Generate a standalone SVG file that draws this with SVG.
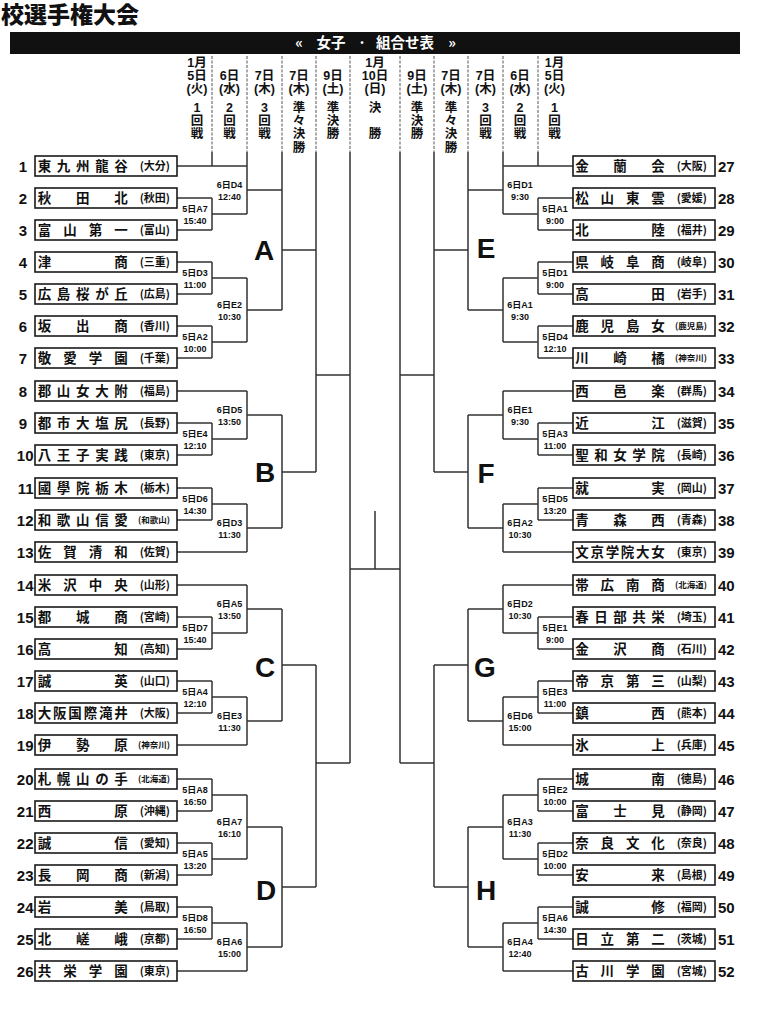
<svg xmlns="http://www.w3.org/2000/svg" width="765" height="1024" viewBox="0 0 765 1024">
<style>
.bg{fill:#fff}
.box{fill:#fff;stroke:#1a1a1a;stroke-width:1.6}
.nm{font-family:"Noto Sans CJK JP","Noto Sans CJK SC",sans-serif;font-size:13.5px;font-weight:700;text-anchor:middle;fill:#111}
.pf{font-family:"Noto Sans CJK JP","Noto Sans CJK SC",sans-serif;font-size:11px;font-weight:700;text-anchor:end;fill:#111}
.pfs{font-size:8.5px}
.num{font-family:"Liberation Sans",Arial,sans-serif;font-size:15px;font-weight:700;fill:#111}
.nl{text-anchor:end}
.nr{text-anchor:start}
.lb{font-family:"Liberation Sans","Noto Sans CJK JP",sans-serif;font-size:9px;font-weight:700;text-anchor:middle;fill:#111}
.hd{font-family:"Liberation Sans","Noto Sans CJK JP",sans-serif;font-size:12.5px;font-weight:700;text-anchor:middle;fill:#111}
.ltr{font-family:"Liberation Sans",Arial,sans-serif;font-size:28px;font-weight:700;text-anchor:middle;fill:#111}
.cn{fill:none;stroke:#333;stroke-width:1.5}
.dv{fill:none;stroke:#555;stroke-width:1;stroke-dasharray:3 1.5}
.ttl{font-family:"Noto Sans CJK JP","Noto Sans CJK SC",sans-serif;font-size:23px;font-weight:900;fill:#111}
.bar{font-family:"Noto Sans CJK JP","Noto Sans CJK SC",sans-serif;font-size:14.5px;font-weight:700;fill:#fff;text-anchor:middle}
</style>
<rect class="bg" x="0" y="0" width="765" height="1024"/>

<g id="title">
<text class="ttl" x="1" y="23">校選手権大会</text>
<rect x="10" y="32" width="730" height="22" fill="#111"/>
<text class="bar" x="299" y="48">«</text>
<text class="bar" x="331" y="48">女子</text>
<text class="bar" x="362" y="48">·</text>
<text class="bar" x="405" y="48">組合せ表</text>
<text class="bar" x="452" y="48">»</text>
</g>

<g id="header">
<text class="hd"><tspan x="197" y="67">1月</tspan><tspan x="197" y="80">5日</tspan><tspan x="197" y="93">(火)</tspan><tspan x="197" y="112">1</tspan><tspan x="197" y="125">回</tspan><tspan x="197" y="138">戦</tspan></text>
<text class="hd"><tspan x="229.5" y="80">6日</tspan><tspan x="229.5" y="93">(水)</tspan><tspan x="229.5" y="112">2</tspan><tspan x="229.5" y="125">回</tspan><tspan x="229.5" y="138">戦</tspan></text>
<text class="hd"><tspan x="264.5" y="80">7日</tspan><tspan x="264.5" y="93">(木)</tspan><tspan x="264.5" y="112">3</tspan><tspan x="264.5" y="125">回</tspan><tspan x="264.5" y="138">戦</tspan></text>
<text class="hd"><tspan x="299" y="80">7日</tspan><tspan x="299" y="93">(木)</tspan><tspan x="299" y="112">準</tspan><tspan x="299" y="125">々</tspan><tspan x="299" y="138">決</tspan><tspan x="299" y="152">勝</tspan></text>
<text class="hd"><tspan x="333" y="80">9日</tspan><tspan x="333" y="93">(土)</tspan><tspan x="333" y="112">準</tspan><tspan x="333" y="125">決</tspan><tspan x="333" y="138">勝</tspan></text>
<text class="hd"><tspan x="375" y="67">1月</tspan><tspan x="375" y="80">10日</tspan><tspan x="375" y="93">(日)</tspan><tspan x="375" y="112">決</tspan><tspan x="375" y="138">勝</tspan></text>
<text class="hd"><tspan x="417" y="80">9日</tspan><tspan x="417" y="93">(土)</tspan><tspan x="417" y="112">準</tspan><tspan x="417" y="125">決</tspan><tspan x="417" y="138">勝</tspan></text>
<text class="hd"><tspan x="451" y="80">7日</tspan><tspan x="451" y="93">(木)</tspan><tspan x="451" y="112">準</tspan><tspan x="451" y="125">々</tspan><tspan x="451" y="138">決</tspan><tspan x="451" y="152">勝</tspan></text>
<text class="hd"><tspan x="485.5" y="80">7日</tspan><tspan x="485.5" y="93">(木)</tspan><tspan x="485.5" y="112">3</tspan><tspan x="485.5" y="125">回</tspan><tspan x="485.5" y="138">戦</tspan></text>
<text class="hd"><tspan x="520" y="80">6日</tspan><tspan x="520" y="93">(水)</tspan><tspan x="520" y="112">2</tspan><tspan x="520" y="125">回</tspan><tspan x="520" y="138">戦</tspan></text>
<text class="hd"><tspan x="554.5" y="67">1月</tspan><tspan x="554.5" y="80">5日</tspan><tspan x="554.5" y="93">(火)</tspan><tspan x="554.5" y="112">1</tspan><tspan x="554.5" y="125">回</tspan><tspan x="554.5" y="138">戦</tspan></text>
<path class="dv" d="M212 56V152M247 56V152M282 56V152M316 56V152M350 56V152M400 56V152M434 56V152M468 56V152M503 56V152M538 56V152"/>
</g>

<g id="connectors">
<path class="cn" d="M212 152V166M247 152V166M282 152V190M316 152V250M350 152V375
M177 166H247M177 198H212M177 230H212M177 262H212M177 294H212M177 326H212M177 358H212
M177 391H247M177 423H212M177 455H212M177 488H212M177 520H212M177 552H247
M177 585H247M177 617H212M177 649H212M177 681H212M177 713H212M177 745H247
M177 779H212M177 811H212M177 843H212M177 875H212M177 907H212M177 939H212M177 971H247
M212 198V230M212 214H247M212 262V294M212 278H247M212 326V358M212 342H247
M212 423V455M212 439H247M212 488V520M212 504H247
M212 617V649M212 633H247M212 681V713M212 697H247
M212 779V811M212 795H247M212 843V875M212 859H247M212 907V939M212 923H247
M247 166V214M247 190H282M247 278V342M247 310H282
M247 391V439M247 415H282M247 504V552M247 528H282
M247 585V633M247 609H282M247 697V745M247 721H282
M247 795V859M247 827H282M247 923V971M247 947H282
M282 190V310M282 250H316M282 415V528M282 472H316
M282 609V721M282 665H316M282 827V947M282 887H316
M316 250V472M316 375H350M316 665V887M316 763H350
M350 375V763"/>
<path class="cn" d="M350 569H400M375 511V569"/>
<path class="cn" d="M538 152V166M503 152V166M468 152V190M434 152V250M400 152V375
M573 166H503M573 198H538M573 230H538M573 262H538M573 294H538M573 326H538M573 358H538
M573 391H503M573 423H538M573 455H538M573 488H538M573 520H538M573 552H503
M573 585H503M573 617H538M573 649H538M573 681H538M573 713H538M573 745H503
M573 779H538M573 811H538M573 843H538M573 875H538M573 907H538M573 939H538M573 971H503
M538 198V230M538 214H503M538 262V294M538 278H503M538 326V358M538 342H503
M538 423V455M538 439H503M538 488V520M538 504H503
M538 617V649M538 633H503M538 681V713M538 697H503
M538 779V811M538 795H503M538 843V875M538 859H503M538 907V939M538 923H503
M503 166V214M503 190H468M503 278V342M503 310H468
M503 391V439M503 415H468M503 504V552M503 528H468
M503 585V633M503 609H468M503 697V745M503 721H468
M503 795V859M503 827H468M503 923V971M503 947H468
M468 190V310M468 250H434M468 415V528M468 472H434
M468 609V721M468 665H434M468 827V947M468 887H434
M434 250V472M434 375H400M434 665V887M434 763H400
M400 375V763"/>
</g>

<g id="block-letters">
<text class="ltr" x="264" y="260">A</text>
<text class="ltr" x="265" y="482">B</text>
<text class="ltr" x="265" y="677">C</text>
<text class="ltr" x="266" y="900">D</text>
<text class="ltr" x="486" y="258">E</text>
<text class="ltr" x="486" y="483">F</text>
<text class="ltr" x="485" y="677">G</text>
<text class="ltr" x="486" y="900">H</text>
</g>

<g id="match-labels">
<text class="lb" x="195" y="212">5日A7<tspan x="195" dy="12">15:40</tspan></text>
<text class="lb" x="195" y="276">5日D3<tspan x="195" dy="12">11:00</tspan></text>
<text class="lb" x="195" y="340">5日A2<tspan x="195" dy="12">10:00</tspan></text>
<text class="lb" x="195" y="437">5日E4<tspan x="195" dy="12">12:10</tspan></text>
<text class="lb" x="195" y="502">5日D6<tspan x="195" dy="12">14:30</tspan></text>
<text class="lb" x="195" y="631">5日D7<tspan x="195" dy="12">15:40</tspan></text>
<text class="lb" x="195" y="695">5日A4<tspan x="195" dy="12">12:10</tspan></text>
<text class="lb" x="195" y="793">5日A8<tspan x="195" dy="12">16:50</tspan></text>
<text class="lb" x="195" y="857">5日A5<tspan x="195" dy="12">13:20</tspan></text>
<text class="lb" x="195" y="921">5日D8<tspan x="195" dy="12">16:50</tspan></text>
<text class="lb" x="229.5" y="188">6日D4<tspan x="229.5" dy="12">12:40</tspan></text>
<text class="lb" x="229.5" y="308">6日E2<tspan x="229.5" dy="12">10:30</tspan></text>
<text class="lb" x="229.5" y="413">6日D5<tspan x="229.5" dy="12">13:50</tspan></text>
<text class="lb" x="229.5" y="526">6日D3<tspan x="229.5" dy="12">11:30</tspan></text>
<text class="lb" x="229.5" y="607">6日A5<tspan x="229.5" dy="12">13:50</tspan></text>
<text class="lb" x="229.5" y="719">6日E3<tspan x="229.5" dy="12">11:30</tspan></text>
<text class="lb" x="229.5" y="825">6日A7<tspan x="229.5" dy="12">16:10</tspan></text>
<text class="lb" x="229.5" y="945">6日A6<tspan x="229.5" dy="12">15:00</tspan></text>
<text class="lb" x="555" y="212">5日A1<tspan x="555" dy="12">9:00</tspan></text>
<text class="lb" x="555" y="276">5日D1<tspan x="555" dy="12">9:00</tspan></text>
<text class="lb" x="555" y="340">5日D4<tspan x="555" dy="12">12:10</tspan></text>
<text class="lb" x="555" y="437">5日A3<tspan x="555" dy="12">11:00</tspan></text>
<text class="lb" x="555" y="502">5日D5<tspan x="555" dy="12">13:20</tspan></text>
<text class="lb" x="555" y="631">5日E1<tspan x="555" dy="12">9:00</tspan></text>
<text class="lb" x="555" y="695">5日E3<tspan x="555" dy="12">11:00</tspan></text>
<text class="lb" x="555" y="793">5日E2<tspan x="555" dy="12">10:00</tspan></text>
<text class="lb" x="555" y="857">5日D2<tspan x="555" dy="12">10:00</tspan></text>
<text class="lb" x="555" y="921">5日A6<tspan x="555" dy="12">14:30</tspan></text>
<text class="lb" x="520" y="188">6日D1<tspan x="520" dy="12">9:30</tspan></text>
<text class="lb" x="520" y="308">6日A1<tspan x="520" dy="12">9:30</tspan></text>
<text class="lb" x="520" y="413">6日E1<tspan x="520" dy="12">9:30</tspan></text>
<text class="lb" x="520" y="526">6日A2<tspan x="520" dy="12">10:30</tspan></text>
<text class="lb" x="520" y="607">6日D2<tspan x="520" dy="12">10:30</tspan></text>
<text class="lb" x="520" y="719">6日D6<tspan x="520" dy="12">15:00</tspan></text>
<text class="lb" x="520" y="825">6日A3<tspan x="520" dy="12">11:30</tspan></text>
<text class="lb" x="520" y="945">6日A4<tspan x="520" dy="12">12:40</tspan></text>
</g>

<g id="team-1"><rect class="box" x="35" y="156" width="142" height="20"/><text class="num nl" x="27" y="171.5">1</text><text class="nm" x="44.5 63.6 82.8 101.9 121" y="171">東九州龍谷</text><text class="pf" x="170" y="170">(大分)</text></g>
<g id="team-2"><rect class="box" x="35" y="188" width="142" height="20"/><text class="num nl" x="27" y="203.5">2</text><text class="nm" x="44.5 82.8 121" y="203">秋田北</text><text class="pf" x="170" y="202">(秋田)</text></g>
<g id="team-3"><rect class="box" x="35" y="220" width="142" height="20"/><text class="num nl" x="27" y="235.5">3</text><text class="nm" x="44.5 70 95.5 121" y="235">富山第一</text><text class="pf" x="170" y="234">(富山)</text></g>
<g id="team-4"><rect class="box" x="35" y="252" width="142" height="20"/><text class="num nl" x="27" y="267.5">4</text><text class="nm" x="44.5 121" y="267">津商</text><text class="pf" x="170" y="266">(三重)</text></g>
<g id="team-5"><rect class="box" x="35" y="284" width="142" height="20"/><text class="num nl" x="27" y="299.5">5</text><text class="nm" x="44.5 63.6 82.8 101.9 121" y="299">広島桜が丘</text><text class="pf" x="170" y="298">(広島)</text></g>
<g id="team-6"><rect class="box" x="35" y="316" width="142" height="20"/><text class="num nl" x="27" y="331.5">6</text><text class="nm" x="44.5 82.8 121" y="331">坂出商</text><text class="pf" x="170" y="330">(香川)</text></g>
<g id="team-7"><rect class="box" x="35" y="348" width="142" height="20"/><text class="num nl" x="27" y="363.5">7</text><text class="nm" x="44.5 70 95.5 121" y="363">敬愛学園</text><text class="pf" x="170" y="362">(千葉)</text></g>
<g id="team-8"><rect class="box" x="35" y="381" width="142" height="20"/><text class="num nl" x="27" y="396.5">8</text><text class="nm" x="44.5 63.6 82.8 101.9 121" y="396">郡山女大附</text><text class="pf" x="170" y="395">(福島)</text></g>
<g id="team-9"><rect class="box" x="35" y="413" width="142" height="20"/><text class="num nl" x="27" y="428.5">9</text><text class="nm" x="44.5 63.6 82.8 101.9 121" y="428">都市大塩尻</text><text class="pf" x="170" y="427">(長野)</text></g>
<g id="team-10"><rect class="box" x="35" y="445" width="142" height="20"/><text class="num nl" x="33.5" y="460.5">10</text><text class="nm" x="44.5 63.6 82.8 101.9 121" y="460">八王子実践</text><text class="pf" x="170" y="459">(東京)</text></g>
<g id="team-11"><rect class="box" x="35" y="478" width="142" height="20"/><text class="num nl" x="33.5" y="493.5">11</text><text class="nm" x="44.5 63.6 82.8 101.9 121" y="493">國學院栃木</text><text class="pf" x="170" y="492">(栃木)</text></g>
<g id="team-12"><rect class="box" x="35" y="510" width="142" height="20"/><text class="num nl" x="33.5" y="525.5">12</text><text class="nm" x="44.5 63.6 82.8 101.9 121" y="525">和歌山信愛</text><text class="pf pfs" x="170" y="523">(和歌山)</text></g>
<g id="team-13"><rect class="box" x="35" y="542" width="142" height="20"/><text class="num nl" x="33.5" y="557.5">13</text><text class="nm" x="44.5 70 95.5 121" y="557">佐賀清和</text><text class="pf" x="170" y="556">(佐賀)</text></g>
<g id="team-14"><rect class="box" x="35" y="575" width="142" height="20"/><text class="num nl" x="33.5" y="590.5">14</text><text class="nm" x="44.5 70 95.5 121" y="590">米沢中央</text><text class="pf" x="170" y="589">(山形)</text></g>
<g id="team-15"><rect class="box" x="35" y="607" width="142" height="20"/><text class="num nl" x="33.5" y="622.5">15</text><text class="nm" x="44.5 82.8 121" y="622">都城商</text><text class="pf" x="170" y="621">(宮崎)</text></g>
<g id="team-16"><rect class="box" x="35" y="639" width="142" height="20"/><text class="num nl" x="33.5" y="654.5">16</text><text class="nm" x="44.5 121" y="654">高知</text><text class="pf" x="170" y="653">(高知)</text></g>
<g id="team-17"><rect class="box" x="35" y="671" width="142" height="20"/><text class="num nl" x="33.5" y="686.5">17</text><text class="nm" x="44.5 121" y="686">誠英</text><text class="pf" x="170" y="685">(山口)</text></g>
<g id="team-18"><rect class="box" x="35" y="703" width="142" height="20"/><text class="num nl" x="33.5" y="718.5">18</text><text class="nm" x="44.5 59.8 75.1 90.4 105.7 121" y="718">大阪国際滝井</text><text class="pf" x="170" y="717">(大阪)</text></g>
<g id="team-19"><rect class="box" x="35" y="735" width="142" height="20"/><text class="num nl" x="33.5" y="750.5">19</text><text class="nm" x="44.5 82.8 121" y="750">伊勢原</text><text class="pf pfs" x="170" y="748">(神奈川)</text></g>
<g id="team-20"><rect class="box" x="35" y="769" width="142" height="20"/><text class="num nl" x="33.5" y="784.5">20</text><text class="nm" x="44.5 63.6 82.8 101.9 121" y="784">札幌山の手</text><text class="pf pfs" x="170" y="782">(北海道)</text></g>
<g id="team-21"><rect class="box" x="35" y="801" width="142" height="20"/><text class="num nl" x="33.5" y="816.5">21</text><text class="nm" x="44.5 121" y="816">西原</text><text class="pf" x="170" y="815">(沖縄)</text></g>
<g id="team-22"><rect class="box" x="35" y="833" width="142" height="20"/><text class="num nl" x="33.5" y="848.5">22</text><text class="nm" x="44.5 121" y="848">誠信</text><text class="pf" x="170" y="847">(愛知)</text></g>
<g id="team-23"><rect class="box" x="35" y="865" width="142" height="20"/><text class="num nl" x="33.5" y="880.5">23</text><text class="nm" x="44.5 82.8 121" y="880">長岡商</text><text class="pf" x="170" y="879">(新潟)</text></g>
<g id="team-24"><rect class="box" x="35" y="897" width="142" height="20"/><text class="num nl" x="33.5" y="912.5">24</text><text class="nm" x="44.5 121" y="912">岩美</text><text class="pf" x="170" y="911">(鳥取)</text></g>
<g id="team-25"><rect class="box" x="35" y="929" width="142" height="20"/><text class="num nl" x="33.5" y="944.5">25</text><text class="nm" x="44.5 82.8 121" y="944">北嵯峨</text><text class="pf" x="170" y="943">(京都)</text></g>
<g id="team-26"><rect class="box" x="35" y="961" width="142" height="20"/><text class="num nl" x="33.5" y="976.5">26</text><text class="nm" x="44.5 70 95.5 121" y="976">共栄学園</text><text class="pf" x="170" y="975">(東京)</text></g>

<g id="team-27"><rect class="box" x="573" y="156" width="142" height="20"/><text class="num nr" x="718" y="171.5">27</text><text class="nm" x="582 620 658" y="171">金蘭会</text><text class="pf" x="707" y="170">(大阪)</text></g>
<g id="team-28"><rect class="box" x="573" y="188" width="142" height="20"/><text class="num nr" x="718" y="203.5">28</text><text class="nm" x="582 607.3 632.7 658" y="203">松山東雲</text><text class="pf" x="707" y="202">(愛媛)</text></g>
<g id="team-29"><rect class="box" x="573" y="220" width="142" height="20"/><text class="num nr" x="718" y="235.5">29</text><text class="nm" x="582 658" y="235">北陸</text><text class="pf" x="707" y="234">(福井)</text></g>
<g id="team-30"><rect class="box" x="573" y="252" width="142" height="20"/><text class="num nr" x="718" y="267.5">30</text><text class="nm" x="582 607.3 632.7 658" y="267">県岐阜商</text><text class="pf" x="707" y="266">(岐阜)</text></g>
<g id="team-31"><rect class="box" x="573" y="284" width="142" height="20"/><text class="num nr" x="718" y="299.5">31</text><text class="nm" x="582 658" y="299">高田</text><text class="pf" x="707" y="298">(岩手)</text></g>
<g id="team-32"><rect class="box" x="573" y="316" width="142" height="20"/><text class="num nr" x="718" y="331.5">32</text><text class="nm" x="582 607.3 632.7 658" y="331">鹿児島女</text><text class="pf pfs" x="707" y="329">(鹿児島)</text></g>
<g id="team-33"><rect class="box" x="573" y="348" width="142" height="20"/><text class="num nr" x="718" y="363.5">33</text><text class="nm" x="582 620 658" y="363">川崎橘</text><text class="pf pfs" x="707" y="361">(神奈川)</text></g>
<g id="team-34"><rect class="box" x="573" y="381" width="142" height="20"/><text class="num nr" x="718" y="396.5">34</text><text class="nm" x="582 620 658" y="396">西邑楽</text><text class="pf" x="707" y="395">(群馬)</text></g>
<g id="team-35"><rect class="box" x="573" y="413" width="142" height="20"/><text class="num nr" x="718" y="428.5">35</text><text class="nm" x="582 658" y="428">近江</text><text class="pf" x="707" y="427">(滋賀)</text></g>
<g id="team-36"><rect class="box" x="573" y="445" width="142" height="20"/><text class="num nr" x="718" y="460.5">36</text><text class="nm" x="582 601 620 639 658" y="460">聖和女学院</text><text class="pf" x="707" y="459">(長崎)</text></g>
<g id="team-37"><rect class="box" x="573" y="478" width="142" height="20"/><text class="num nr" x="718" y="493.5">37</text><text class="nm" x="582 658" y="493">就実</text><text class="pf" x="707" y="492">(岡山)</text></g>
<g id="team-38"><rect class="box" x="573" y="510" width="142" height="20"/><text class="num nr" x="718" y="525.5">38</text><text class="nm" x="582 620 658" y="525">青森西</text><text class="pf" x="707" y="524">(青森)</text></g>
<g id="team-39"><rect class="box" x="573" y="542" width="142" height="20"/><text class="num nr" x="718" y="557.5">39</text><text class="nm" x="582 597.2 612.4 627.6 642.8 658" y="557">文京学院大女</text><text class="pf" x="707" y="556">(東京)</text></g>
<g id="team-40"><rect class="box" x="573" y="575" width="142" height="20"/><text class="num nr" x="718" y="590.5">40</text><text class="nm" x="582 607.3 632.7 658" y="590">帯広南商</text><text class="pf pfs" x="707" y="588">(北海道)</text></g>
<g id="team-41"><rect class="box" x="573" y="607" width="142" height="20"/><text class="num nr" x="718" y="622.5">41</text><text class="nm" x="582 601 620 639 658" y="622">春日部共栄</text><text class="pf" x="707" y="621">(埼玉)</text></g>
<g id="team-42"><rect class="box" x="573" y="639" width="142" height="20"/><text class="num nr" x="718" y="654.5">42</text><text class="nm" x="582 620 658" y="654">金沢商</text><text class="pf" x="707" y="653">(石川)</text></g>
<g id="team-43"><rect class="box" x="573" y="671" width="142" height="20"/><text class="num nr" x="718" y="686.5">43</text><text class="nm" x="582 607.3 632.7 658" y="686">帝京第三</text><text class="pf" x="707" y="685">(山梨)</text></g>
<g id="team-44"><rect class="box" x="573" y="703" width="142" height="20"/><text class="num nr" x="718" y="718.5">44</text><text class="nm" x="582 658" y="718">鎮西</text><text class="pf" x="707" y="717">(熊本)</text></g>
<g id="team-45"><rect class="box" x="573" y="735" width="142" height="20"/><text class="num nr" x="718" y="750.5">45</text><text class="nm" x="582 658" y="750">氷上</text><text class="pf" x="707" y="749">(兵庫)</text></g>
<g id="team-46"><rect class="box" x="573" y="769" width="142" height="20"/><text class="num nr" x="718" y="784.5">46</text><text class="nm" x="582 658" y="784">城南</text><text class="pf" x="707" y="783">(徳島)</text></g>
<g id="team-47"><rect class="box" x="573" y="801" width="142" height="20"/><text class="num nr" x="718" y="816.5">47</text><text class="nm" x="582 620 658" y="816">富士見</text><text class="pf" x="707" y="815">(静岡)</text></g>
<g id="team-48"><rect class="box" x="573" y="833" width="142" height="20"/><text class="num nr" x="718" y="848.5">48</text><text class="nm" x="582 607.3 632.7 658" y="848">奈良文化</text><text class="pf" x="707" y="847">(奈良)</text></g>
<g id="team-49"><rect class="box" x="573" y="865" width="142" height="20"/><text class="num nr" x="718" y="880.5">49</text><text class="nm" x="582 658" y="880">安来</text><text class="pf" x="707" y="879">(島根)</text></g>
<g id="team-50"><rect class="box" x="573" y="897" width="142" height="20"/><text class="num nr" x="718" y="912.5">50</text><text class="nm" x="582 658" y="912">誠修</text><text class="pf" x="707" y="911">(福岡)</text></g>
<g id="team-51"><rect class="box" x="573" y="929" width="142" height="20"/><text class="num nr" x="718" y="944.5">51</text><text class="nm" x="582 607.3 632.7 658" y="944">日立第二</text><text class="pf" x="707" y="943">(茨城)</text></g>
<g id="team-52"><rect class="box" x="573" y="961" width="142" height="20"/><text class="num nr" x="718" y="976.5">52</text><text class="nm" x="582 607.3 632.7 658" y="976">古川学園</text><text class="pf" x="707" y="975">(宮城)</text></g>
</svg>
